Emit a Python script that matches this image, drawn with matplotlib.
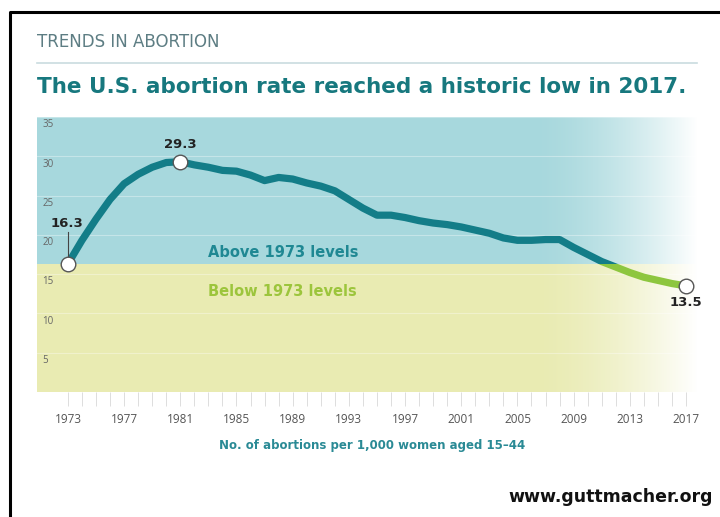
import numpy as np
import matplotlib.pyplot as plt
from matplotlib.patches import Rectangle

plt.rcParams['font.family'] = ['DejaVu Sans']

years = np.arange(1973, 2018)
rate = [16.3, 19.3, 22.0, 24.5, 26.5, 27.7, 28.6, 29.2, 29.3, 28.9,
        28.6, 28.2, 28.1, 27.6, 26.9, 27.3, 27.1, 26.6, 26.2, 25.6,
        24.5, 23.4, 22.5, 22.5, 22.2, 21.8, 21.5, 21.3, 21.0, 20.6,
        20.2, 19.6, 19.3, 19.3, 19.4, 19.4, 18.4, 17.5, 16.6, 15.9,
        15.2, 14.6, 14.2, 13.8, 13.5]
base_1973 = 16.3
callouts = {1973: '16.3', 1981: '29.3', 2017: '13.5'}
yticks = [5, 10, 15, 20, 25, 30, 35]
xticks = list(range(1973, 2018, 4))

teal = '#137d88'
green = '#8dc63f'
bg_top = '#a7d8dd'
bg_low = '#e9ebb2'
narrow = ['Open Sans', 'DejaVu Sans']

fig = plt.figure(figsize=(7.2, 5.17), dpi=100)
ax = fig.add_axes([0.0514, 0.2418, 0.917, 0.532])
xlo, xhi = 1970.8, 2017.8
ax.set_xlim(xlo, xhi)
ax.set_ylim(0, 35)

# backgrounds
ax.axhspan(base_1973, 35, color=bg_top, lw=0, zorder=0)
ax.axhspan(0, base_1973, color=bg_low, lw=0, zorder=0)
for v in yticks:
    ax.axhline(v, color='white', lw=0.8, alpha=0.35, zorder=1)

# fade to white on the right
ramp = np.linspace(0, 1, 200) ** 1.6
fade = np.ones((2, 200, 4))
fade[..., 3] = ramp
ax.imshow(fade, extent=[2006.0, xhi, 0, 35], aspect='auto', zorder=2,
          interpolation='bilinear')
ax.set_xlim(xlo, xhi)
ax.set_ylim(0, 35)

# line, teal above 1973 level, green below
l1, = ax.plot(years, rate, color=teal, lw=5.2, solid_capstyle='round',
              solid_joinstyle='round', zorder=3)
l2, = ax.plot(years, rate, color=green, lw=5.2, solid_capstyle='round',
              solid_joinstyle='round', zorder=3)
r1 = Rectangle((xlo, base_1973), xhi - xlo, 40, transform=ax.transData)
r2 = Rectangle((xlo, -5), xhi - xlo, base_1973 + 5, transform=ax.transData)
l1.set_clip_path(r1)
l2.set_clip_path(r2)

for yr, txt in callouts.items():
    v = rate[yr - 1973]
    ax.plot(yr, v, 'o', ms=10.5, mfc='white', mec='#555555', mew=1.0, zorder=5)
ax.text(1981, 29.3 + 1.4, '29.3', ha='center', va='bottom', fontsize=9.5,
        fontweight='bold', color='#222222', zorder=6)
ax.text(2017, 13.5 - 1.3, '13.5', ha='center', va='top', fontsize=9.5,
        fontweight='bold', color='#222222', zorder=6)
ax.text(1972.9, 20.6, '16.3', ha='center', va='bottom', fontsize=9.5,
        fontweight='bold', color='#222222', zorder=6)
ax.plot([1973, 1973], [17.3, 20.4], color='#444444', lw=0.8, zorder=4)

ax.text(1983.0, 17.7, 'Above 1973 levels', fontsize=10.5, fontweight='bold',
        color='#1f8893', va='center', zorder=6)
ax.text(1983.0, 12.8, 'Below 1973 levels', fontsize=10.5, fontweight='bold',
        color='#9cc53c', va='center', zorder=6)

# y labels sit inside the plot, just under their grid lines
for v in yticks:
    ax.text(1971.2, v - 1.0, str(v), fontsize=7, color='#666666',
            va='center', ha='left', zorder=6, family=narrow)

ax.set_yticks([])
ax.set_xticks(xticks)
ax.set_xticklabels([str(x) for x in xticks], fontsize=8.5, color='#555555',
                   family=narrow)
ax.set_xticks(years, minor=True)
ax.tick_params(axis='x', which='both', length=10, width=0.6, color='#d8d8d8',
               pad=5)
for s in ax.spines.values():
    s.set_visible(False)

fig.text(37 / 720, 1 - 42 / 517, 'TRENDS IN ABORTION', fontsize=12,
         color='#5d7d83', va='center', ha='left')
fig.add_artist(plt.Line2D([37 / 720, 697 / 720], [1 - 63 / 517] * 2,
                          color='#c9dcdf', lw=1.2))
fig.text(37 / 720, 1 - 87 / 517,
         'The U.S. abortion rate reached a historic low in 2017.',
         fontsize=15.5, fontweight='bold', color='#17787e', va='center',
         ha='left')
fig.text(372 / 720, 1 - 445 / 517,
         'No. of abortions per 1,000 women aged 15\u201344', fontsize=8.5,
         fontweight='bold', color='#2a8a95', va='center', ha='center')
fig.text(713 / 720, 1 - 497 / 517, 'www.guttmacher.org', fontsize=12.5,
         fontweight='bold', color='#111111', va='center', ha='right')

# outer frame, left and top only
fig.add_artist(plt.Line2D([10 / 720, 10 / 720, 1.0],
                          [0, 1 - 12 / 517, 1 - 12 / 517],
                          color='black', lw=2.2))

fig.savefig('out.png', dpi=100)
